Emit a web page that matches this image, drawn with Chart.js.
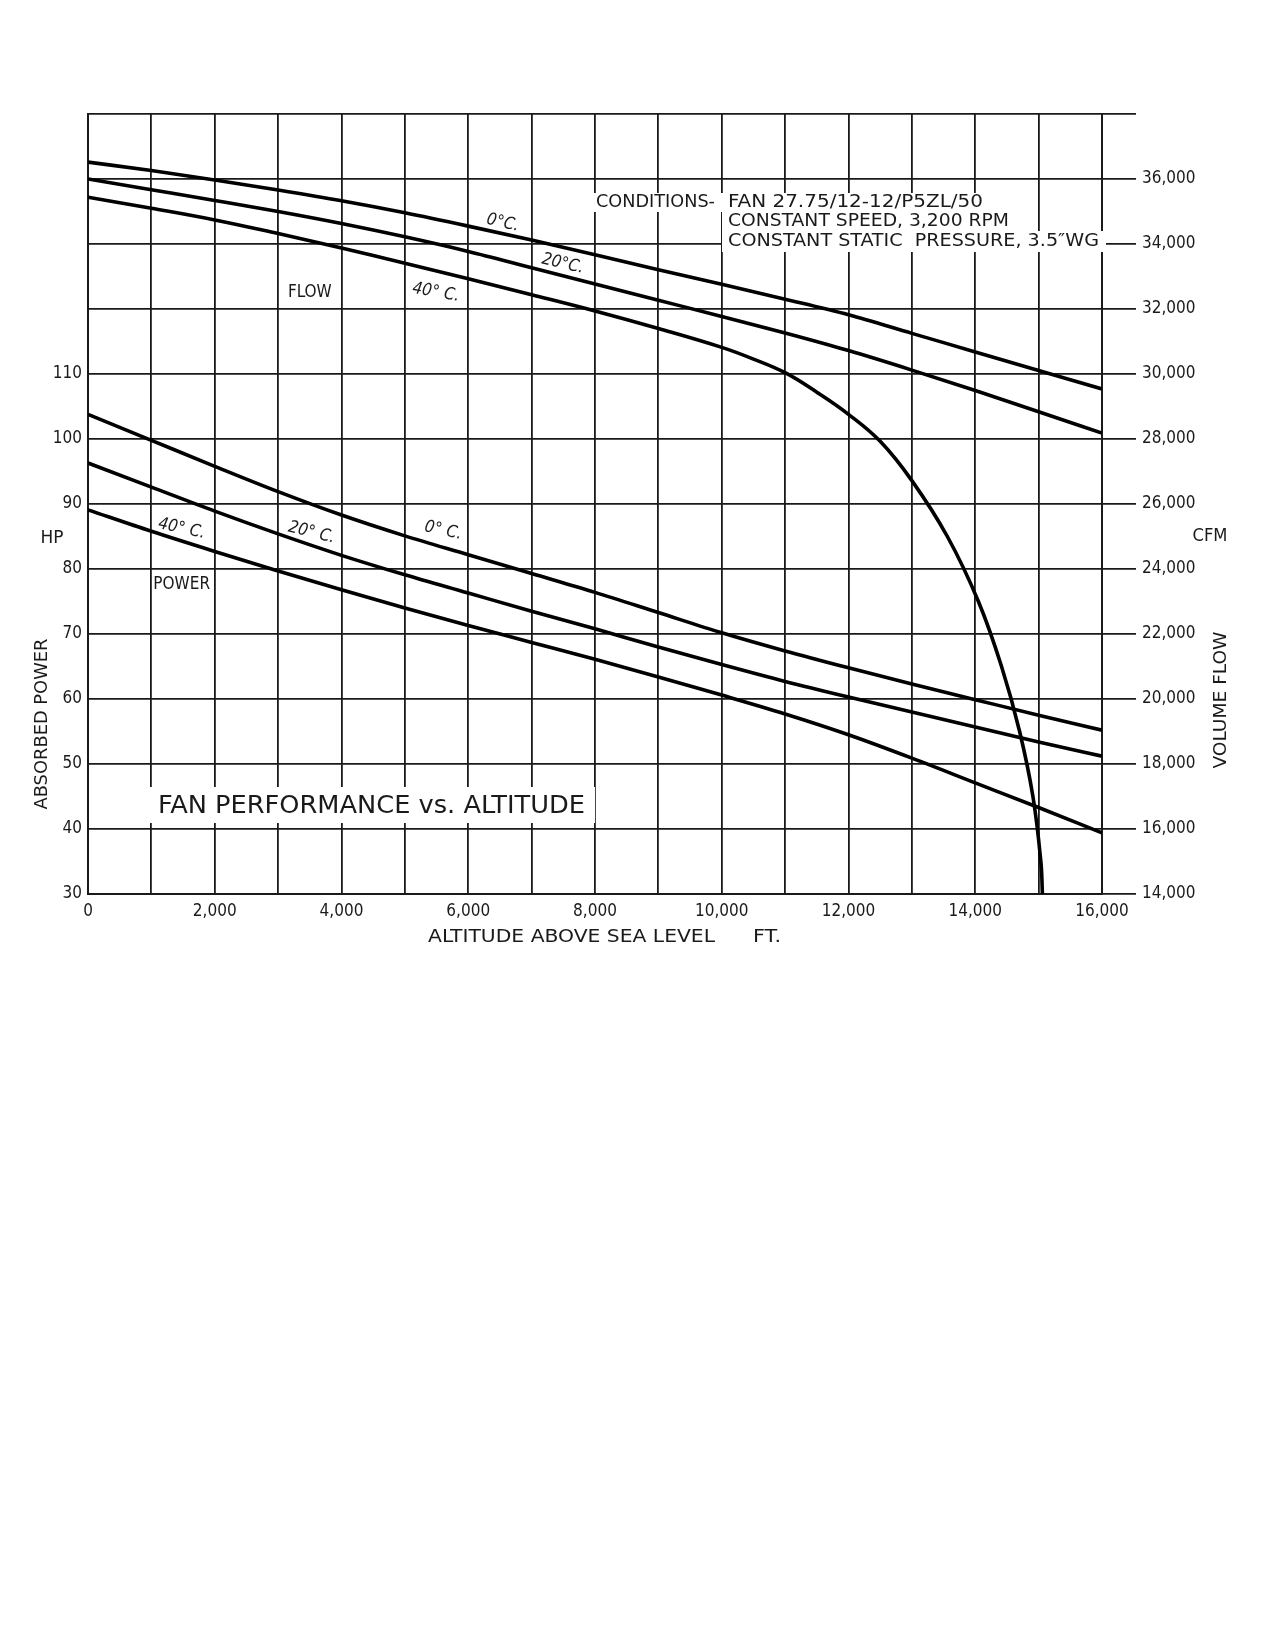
<!DOCTYPE html>
<html>
<head>
<meta charset="utf-8">
<title>Fan performance vs. altitude</title>
<script src="https://cdn.jsdelivr.net/npm/chart.js@4.4.1/dist/chart.umd.min.js"></script>
<style>
  body { margin: 0; background: #fff; }
  #chart { display: block; }
</style>
</head>
<body>
<canvas id="chart" width="1275" height="1650"></canvas>
<script>
// altitude steps (ft) used by most curves
const altitudeFt = [0, 1000, 2000, 3000, 4000, 5000, 6000, 7000, 8000, 9000, 10000, 11000, 12000, 13000, 14000, 15000, 16000];

// volume flow, CFM
const flow0C  = [36520, 36260, 35970, 35660, 35330, 34960, 34550, 34120, 33670, 33210, 32760, 32300, 31820, 31250, 30680, 30110, 29540];
const flow20C = [36000, 35670, 35340, 35000, 34630, 34220, 33770, 33270, 32770, 32270, 31770, 31260, 30720, 30120, 29490, 28840, 28180];

// the 40 C flow curve breaks down near 15,000 ft so it has its own altitudes
const flow40CAlt = [0, 1000, 2000, 3000, 4000, 5000, 6000, 7000, 8000, 9000, 10000, 10500, 11000, 11500, 12000, 12500, 13000, 13560, 14050, 14415, 14700, 14910, 15035, 15060];
const flow40C    = [35440, 35100, 34740, 34320, 33880, 33410, 32930, 32440, 31940, 31400, 30820, 30460, 30040, 29440, 28760, 27930, 26720, 25000, 23000, 21000, 19000, 17000, 15000, 14000];

// absorbed power, HP
const power0C  = [103.8, 99.8, 95.8, 91.9, 88.3, 85.1, 82.2, 79.3, 76.4, 73.3, 70.2, 67.4, 64.8, 62.3, 59.9, 57.5, 55.2];
const power20C = [96.3, 92.6, 88.9, 85.4, 82.1, 79.1, 76.3, 73.5, 70.8, 68.0, 65.3, 62.7, 60.3, 58.0, 55.7, 53.4, 51.2];
const power40C = [89.1, 85.8, 82.7, 79.7, 76.8, 74.0, 71.3, 68.7, 66.1, 63.4, 60.6, 57.7, 54.5, 50.9, 47.1, 43.3, 39.4];

// axis ranges
const altitudeRange = [0, 16000];
const powerRange = [30, 150];      // labels stop at 110
const flowRange = [14000, 38000];  // labels stop at 36,000

// curve captions, placed in data units
const curveLabels = [
  { text: "0°C.",   x: 6545, y: 34650, axis: "yFlow",  angle: 13, italic: true },
  { text: "20°C.",  x: 7490, y: 33390, axis: "yFlow",  angle: 13, italic: true },
  { text: "40° C.", x: 5490, y: 32510, axis: "yFlow",  angle: 10, italic: true },
  { text: "FLOW",   x: 3500, y: 32510, axis: "yFlow",  angle: 0,  italic: false },
  { text: "40° C.", x: 1478, y: 86.2,  axis: "yPower", angle: 12, italic: true },
  { text: "20° C.", x: 3528, y: 85.6,  axis: "yPower", angle: 14, italic: true },
  { text: "0° C.",  x: 5605, y: 85.9,  axis: "yPower", angle: 12, italic: true },
  { text: "POWER",  x: 1478, y: 77.6,  axis: "yPower", angle: 0,  italic: false }
];

const FONT = "'DejaVu Sans Condensed', 'DejaVu Sans', sans-serif";
const INK = "#1a1a1a";

function pairs(xs, ys) {
  return xs.map((x, i) => ({ x: x, y: ys[i] }));
}

function curve(label, xs, ys, axis, spline) {
  let ds = {
    label: label,
    data: pairs(xs, ys),
    yAxisID: axis,
    borderColor: "#000",
    borderWidth: 3.6,
    borderJoinStyle: "round",
    pointRadius: 0,
    fill: false
  };
  if (spline) {
    ds.tension = 0.4;   // knee of the 40 C flow curve
  } else {
    ds.cubicInterpolationMode = "monotone";
  }
  return ds;
}

// draw text squeezed / stretched to a given width (drafting font is narrow)
function fitText(ctx, text, x, y, size, width, align) {
  ctx.font = size + "px " + FONT;
  const w = ctx.measureText(text).width;
  const k = width ? width / w : 1;
  ctx.save();
  ctx.translate(x, y);
  ctx.scale(k, 1);
  ctx.textAlign = align || "left";
  ctx.textBaseline = "middle";
  ctx.fillText(text, 0, 0);
  ctx.restore();
}

const paperText = {
  id: "paperText",
  afterDraw(chart) {
    const ctx = chart.ctx;
    const xs = chart.scales.x;
    ctx.save();
    ctx.fillStyle = INK;

    // curve captions
    curveLabels.forEach((l) => {
      const px = xs.getPixelForValue(l.x);
      const py = chart.scales[l.axis].getPixelForValue(l.y);
      ctx.save();
      ctx.translate(px, py);
      ctx.rotate(l.angle * Math.PI / 180);
      ctx.font = (l.italic ? "italic " : "") + "17px " + FONT;
      ctx.textAlign = "center";
      ctx.textBaseline = "middle";
      ctx.fillText(l.text, 0, 0);
      ctx.restore();
    });

    // conditions block, grid erased behind it
    ctx.fillStyle = "#fff";
    ctx.fillRect(590, 193, 398, 19);
    ctx.fillRect(722, 212, 292, 20);
    ctx.fillRect(722, 231, 384, 21);
    ctx.fillStyle = INK;
    fitText(ctx, "CONDITIONS-", 596, 203, 17, 119);
    fitText(ctx, "FAN 27.75/12-12/P5ZL/50", 728, 203, 17, 255);
    fitText(ctx, "CONSTANT SPEED, 3,200 RPM", 728, 222, 17, 281);
    fitText(ctx, "CONSTANT STATIC  PRESSURE, 3.5\u2033WG", 728, 242, 17, 371);

    // title box
    ctx.fillStyle = "#fff";
    ctx.fillRect(150, 787, 445, 36);
    ctx.fillStyle = INK;
    fitText(ctx, "FAN PERFORMANCE vs. ALTITUDE", 158, 806, 25, 427);

    // axis titles
    fitText(ctx, "HP", 52, 539, 17, 23, "center");
    fitText(ctx, "CFM", 1210, 537, 17, 35, "center");
    fitText(ctx, "ALTITUDE ABOVE SEA LEVEL", 428, 938, 17, 287);
    fitText(ctx, "FT.", 753, 938, 17, 28);

    ctx.save();
    ctx.translate(43, 724);
    ctx.rotate(-Math.PI / 2);
    fitText(ctx, "ABSORBED POWER", 0, 0, 17, 171, "center");
    ctx.restore();

    ctx.save();
    ctx.translate(1222, 700);
    ctx.rotate(-Math.PI / 2);
    fitText(ctx, "VOLUME FLOW", 0, 0, 17, 137, "center");
    ctx.restore();

    ctx.restore();
  }
};

function drawChart() {
  const ctx = document.getElementById("chart");

  new Chart(ctx, {
    type: "line",
    data: {
      datasets: [
        curve("Flow 0°C", altitudeFt, flow0C, "yFlow"),
        curve("Flow 20°C", altitudeFt, flow20C, "yFlow"),
        curve("Flow 40°C", flow40CAlt, flow40C, "yFlow", true),
        curve("Power 0°C", altitudeFt, power0C, "yPower"),
        curve("Power 20°C", altitudeFt, power20C, "yPower"),
        curve("Power 40°C", altitudeFt, power40C, "yPower")
      ]
    },
    options: {
      responsive: false,
      animation: false,
      layout: { padding: { top: 114, left: 0, right: 0, bottom: 0 } },
      plugins: {
        legend: { display: false },
        tooltip: { enabled: false }
      },
      scales: {
        x: {
          type: "linear",
          min: altitudeRange[0],
          max: altitudeRange[1],
          afterFit: (s) => { s.height = 756; },
          grid: { color: INK, lineWidth: 1.8, drawTicks: false },
          border: { color: INK, width: 2 },
          ticks: {
            stepSize: 1000,
            autoSkip: false,
            maxRotation: 0,
            padding: 7,
            color: INK,
            font: { family: FONT, size: 17 },
            callback: (v) => (v % 2000 === 0 ? v.toLocaleString("en-US") : "")
          }
        },
        yPower: {
          type: "linear",
          position: "left",
          min: powerRange[0],
          max: powerRange[1],
          afterFit: (s) => { s.width = 88; },
          grid: { color: INK, lineWidth: 1.8, drawTicks: false },
          border: { color: INK, width: 2 },
          ticks: {
            stepSize: 10,
            padding: 6,
            color: INK,
            font: { family: FONT, size: 17 },
            callback: (v) => (v <= 110 ? String(v) : "")
          }
        },
        yFlow: {
          type: "linear",
          position: "right",
          min: flowRange[0],
          max: flowRange[1],
          afterFit: (s) => { s.width = 173; },
          grid: { drawOnChartArea: false, color: INK, lineWidth: 1.8, tickLength: 34 },
          border: { color: INK, width: 2 },
          ticks: {
            stepSize: 2000,
            padding: 6,
            color: INK,
            font: { family: FONT, size: 17 },
            callback: (v) => (v <= 36000 ? v.toLocaleString("en-US") : "")
          }
        }
      }
    },
    plugins: [paperText]
  });
}

drawChart();
</script>
</body>
</html>
